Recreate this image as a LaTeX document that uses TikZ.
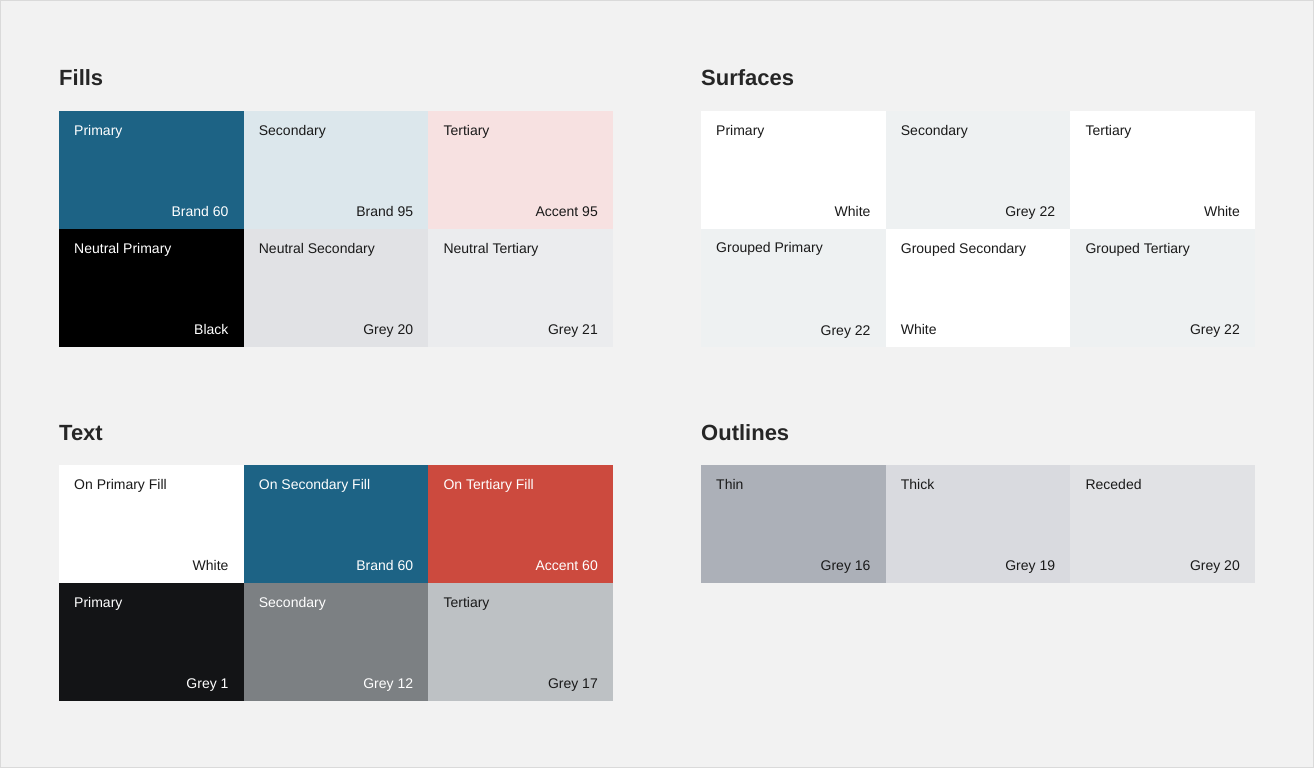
\documentclass[tikz,border=0pt]{standalone}
\usepackage{fontspec}
\setmainfont{Liberation Sans}
\usepackage{xcolor}
\usetikzlibrary{positioning}

\definecolor{canvas}{HTML}{F2F2F2}
\definecolor{frame}{HTML}{DADADA}
\definecolor{ink}{HTML}{1A1A1A}
\definecolor{headink}{HTML}{262626}
\definecolor{brand60}{HTML}{1D6385}
\definecolor{brand95}{HTML}{DCE7EC}
\definecolor{accent95}{HTML}{F7E1E1}
\definecolor{accent60}{HTML}{CC4A3E}
\definecolor{grey1}{HTML}{131416}
\definecolor{grey12}{HTML}{7C8083}
\definecolor{grey16}{HTML}{ACB0B8}
\definecolor{grey17}{HTML}{BDC1C4}
\definecolor{grey19}{HTML}{D9DADF}
\definecolor{grey20}{HTML}{E1E2E5}
\definecolor{grey21}{HTML}{EBECEE}
\definecolor{grey22}{HTML}{EEF1F2}

\tikzset{
  swatch/.style={rectangle,minimum width=184.67pt,minimum height=118pt,
                 inner sep=0pt,outer sep=0pt},
  toplbl/.style={anchor=base west,inner sep=0pt,text=ink,
                 font=\fontsize{14}{16}\selectfont},
  botlbl/.style={anchor=base east,inner sep=0pt,text=ink,
                 font=\fontsize{14}{16}\selectfont},
  heading/.style={anchor=base west,inner sep=0pt,text=headink,
                  font=\fontsize{22}{26}\selectfont\bfseries}
}

\begin{document}
\begin{tikzpicture}[x=1pt,y=-1pt,node distance=0pt]
        \useasboundingbox (0,0) rectangle (1314,768);
        \fill[canvas] (0,0) rectangle (1314,768);
        \draw[frame,line width=1pt] (0.5,0.5) rectangle (1313.5,767.5);

        % Fills
        \node[heading] (fillshead) at (59,85) {Fills};
        \node[swatch,fill=brand60,anchor=north west] (fa) at (59,111) {};
        \node[swatch,fill=brand95,right=of fa] (fb) {};
        \node[swatch,fill=accent95,right=of fb] (fc) {};
        \node[swatch,fill=black,below=of fa] (fd) {};
        \node[swatch,fill=grey20,below=of fb] (fe) {};
        \node[swatch,fill=grey21,below=of fc] (ff) {};

        \node[toplbl,text=white] (fan) at ([xshift=15pt,yshift=-24pt]fa.north west) {Primary};
        \node[botlbl,text=white] (fav) at ([xshift=-15pt,yshift=13pt]fa.south east) {Brand 60};
        \node[toplbl] (fbn) at ([xshift=15pt,yshift=-24pt]fb.north west) {Secondary};
        \node[botlbl] (fbv) at ([xshift=-15pt,yshift=13pt]fb.south east) {Brand 95};
        \node[toplbl] (fcn) at ([xshift=15pt,yshift=-24pt]fc.north west) {Tertiary};
        \node[botlbl] (fcv) at ([xshift=-15pt,yshift=13pt]fc.south east) {Accent 95};
        \node[toplbl,text=white] (fdn) at ([xshift=15pt,yshift=-24pt]fd.north west) {Neutral Primary};
        \node[botlbl,text=white] (fdv) at ([xshift=-15pt,yshift=13pt]fd.south east) {Black};
        \node[toplbl] (fen) at ([xshift=15pt,yshift=-24pt]fe.north west) {Neutral Secondary};
        \node[botlbl] (fev) at ([xshift=-15pt,yshift=13pt]fe.south east) {Grey 20};
        \node[toplbl] (ffn) at ([xshift=15pt,yshift=-24pt]ff.north west) {Neutral Tertiary};
        \node[botlbl] (ffv) at ([xshift=-15pt,yshift=13pt]ff.south east) {Grey 21};

        % Surfaces
        \node[heading] (surfhead) at (701,85) {Surfaces};
        \node[swatch,fill=white,anchor=north west] (sa) at (701,111) {};
        \node[swatch,fill=grey22,right=of sa] (sb) {};
        \node[swatch,fill=white,right=of sb] (sc) {};
        \node[swatch,fill=grey22,below=of sa] (sd) {};
        \node[swatch,fill=white,below=of sb] (se) {};
        \node[swatch,fill=grey22,below=of sc] (sf) {};

        \node[toplbl] (san) at ([xshift=15pt,yshift=-24pt]sa.north west) {Primary};
        \node[botlbl] (sav) at ([xshift=-15pt,yshift=13pt]sa.south east) {White};
        \node[toplbl] (sbn) at ([xshift=15pt,yshift=-24pt]sb.north west) {Secondary};
        \node[botlbl] (sbv) at ([xshift=-15pt,yshift=13pt]sb.south east) {Grey 22};
        \node[toplbl] (scn) at ([xshift=15pt,yshift=-24pt]sc.north west) {Tertiary};
        \node[botlbl] (scv) at ([xshift=-15pt,yshift=13pt]sc.south east) {White};
        \node[toplbl] (sdn) at ([xshift=15pt,yshift=-23pt]sd.north west) {Grouped Primary};
        \node[botlbl] (sdv) at ([xshift=-15pt,yshift=12pt]sd.south east) {Grey 22};
        \node[toplbl] (sen) at ([xshift=15pt,yshift=-24pt]se.north west) {Grouped Secondary};
        \node[toplbl] (sev) at ([xshift=15pt,yshift=13pt]se.south west) {White};
        \node[toplbl] (sfn) at ([xshift=15pt,yshift=-24pt]sf.north west) {Grouped Tertiary};
        \node[botlbl] (sfv) at ([xshift=-15pt,yshift=13pt]sf.south east) {Grey 22};

        % Text
        \node[heading] (texthead) at (59,440) {Text};
        \node[swatch,fill=white,anchor=north west] (ta) at (59,465) {};
        \node[swatch,fill=brand60,right=of ta] (tb) {};
        \node[swatch,fill=accent60,right=of tb] (tc) {};
        \node[swatch,fill=grey1,below=of ta] (td) {};
        \node[swatch,fill=grey12,below=of tb] (te) {};
        \node[swatch,fill=grey17,below=of tc] (tf) {};

        \node[toplbl] (tan) at ([xshift=15pt,yshift=-24pt]ta.north west) {On Primary Fill};
        \node[botlbl] (tav) at ([xshift=-15pt,yshift=13pt]ta.south east) {White};
        \node[toplbl,text=white] (tbn) at ([xshift=15pt,yshift=-24pt]tb.north west) {On Secondary Fill};
        \node[botlbl,text=white] (tbv) at ([xshift=-15pt,yshift=13pt]tb.south east) {Brand 60};
        \node[toplbl,text=white] (tcn) at ([xshift=15pt,yshift=-24pt]tc.north west) {On Tertiary Fill};
        \node[botlbl,text=white] (tcv) at ([xshift=-15pt,yshift=13pt]tc.south east) {Accent 60};
        \node[toplbl,text=white] (tdn) at ([xshift=15pt,yshift=-24pt]td.north west) {Primary};
        \node[botlbl,text=white] (tdv) at ([xshift=-15pt,yshift=13pt]td.south east) {Grey 1};
        \node[toplbl,text=white] (ten) at ([xshift=15pt,yshift=-24pt]te.north west) {Secondary};
        \node[botlbl,text=white] (tev) at ([xshift=-15pt,yshift=13pt]te.south east) {Grey 12};
        \node[toplbl] (tfn) at ([xshift=15pt,yshift=-24pt]tf.north west) {Tertiary};
        \node[botlbl] (tfv) at ([xshift=-15pt,yshift=13pt]tf.south east) {Grey 17};

        % Outlines
        \node[heading] (outhead) at (701,440) {Outlines};
        \node[swatch,fill=grey16,anchor=north west] (oa) at (701,465) {};
        \node[swatch,fill=grey19,right=of oa] (ob) {};
        \node[swatch,fill=grey20,right=of ob] (oc) {};

        \node[toplbl] (oan) at ([xshift=15pt,yshift=-24pt]oa.north west) {Thin};
        \node[botlbl] (oav) at ([xshift=-15pt,yshift=13pt]oa.south east) {Grey 16};
        \node[toplbl] (obn) at ([xshift=15pt,yshift=-24pt]ob.north west) {Thick};
        \node[botlbl] (obv) at ([xshift=-15pt,yshift=13pt]ob.south east) {Grey 19};
        \node[toplbl] (ocn) at ([xshift=15pt,yshift=-24pt]oc.north west) {Receded};
        \node[botlbl] (ocv) at ([xshift=-15pt,yshift=13pt]oc.south east) {Grey 20};
    \end{tikzpicture}
\end{document}
